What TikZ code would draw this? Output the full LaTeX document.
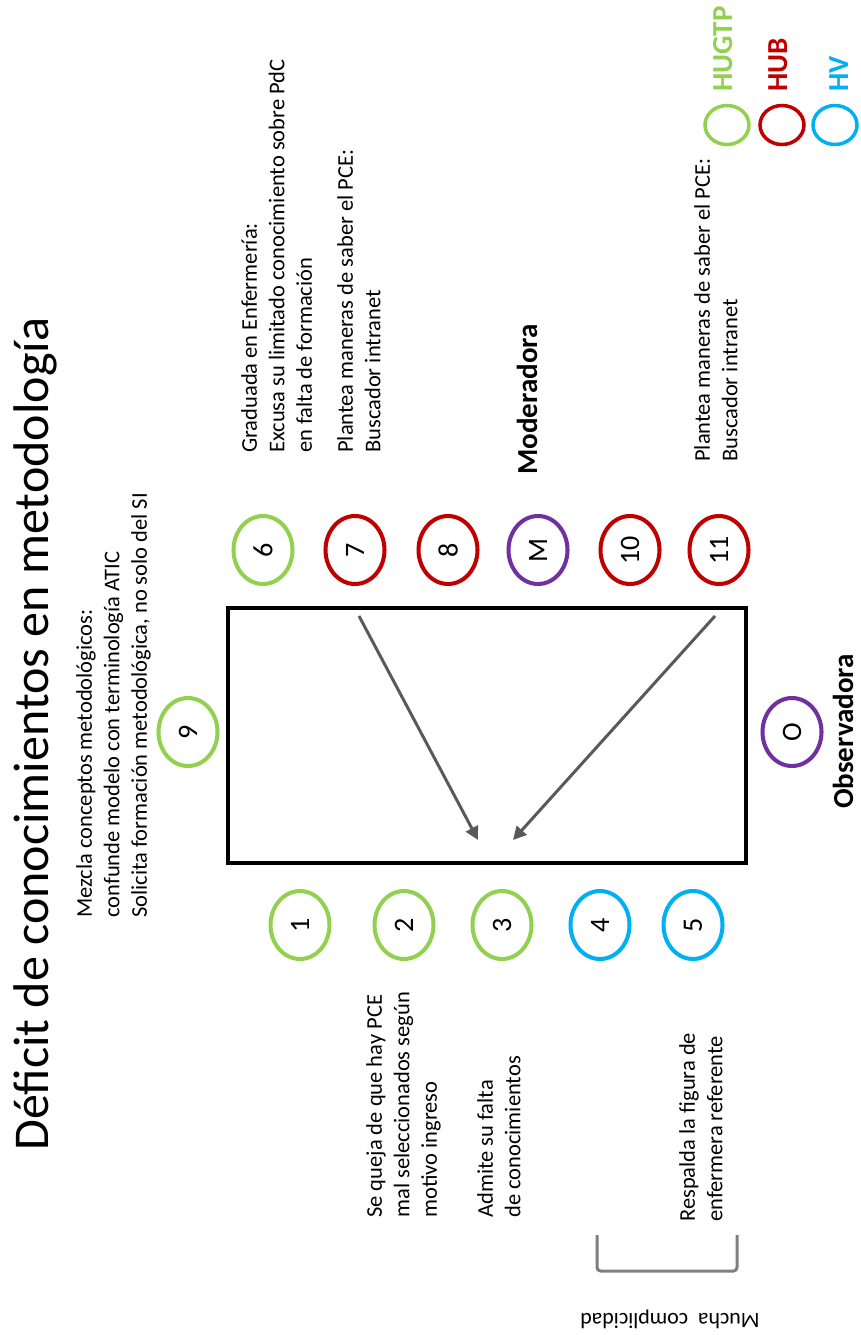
\documentclass[tikz,border=0pt]{standalone}
\usepackage{fontspec}
\setmainfont{Carlito}
\usetikzlibrary{arrows.meta, shapes.geometric}
\definecolor{hugtp}{HTML}{92D050}
\definecolor{hub}{HTML}{C00000}
\definecolor{hv}{HTML}{00B0F0}
\definecolor{rol}{HTML}{7030A0}
\definecolor{flecha}{HTML}{595959}
\definecolor{llave}{HTML}{7F7F7F}
\tikzset{
  persona/.style={
    ellipse,
    draw,
    line width=2.3pt,
    rotate=90,
    minimum width=1.36cm,
    minimum height=1.18cm,
    inner sep=0pt,
    font=\fontsize{16}{19}\selectfont
  },
  leyenda/.style={
    ellipse,
    draw,
    line width=2pt,
    rotate=90,
    minimum width=0.78cm,
    minimum height=0.88cm,
    inner sep=0pt
  },
  nota/.style={
    rotate=90,
    anchor=north west,
    align=left,
    inner sep=0pt,
    font=\fontsize{12.8}{15.6}\selectfont
  },
  rotulo/.style={
    rotate=90,
    anchor=base west,
    inner sep=0pt,
    font=\fontsize{16.5}{19}\selectfont\bfseries
  },
  mesa/.style={
    rectangle,
    draw,
    line width=2.3pt,
    minimum width=10.36cm,
    minimum height=5.10cm
  },
  arrow/.style={-{Triangle[length=7.5pt, width=7.5pt]}, line width=1.7pt, color=flecha}
}
\begin{document}
\begin{tikzpicture}[x=0.02cm, y=-0.02cm]
  \useasboundingbox (0,0) rectangle (860,1335);

  \node[rotate=90, anchor=base west, inner sep=0pt, font=\fontsize{28.5}{34}\selectfont] (titulo)
        at (49,1151) {Déficit de conocimientos en metodología};

  \node[mesa] (mesa) at (487,735.5) {};

  \node[persona, draw=hugtp] (p6) at (263,550) {6};
  \node[persona, draw=hub] (p7) at (355,550) {7};
  \node[persona, draw=hub] (p8) at (448,550) {8};
  \node[persona, draw=rol] (pM) at (538,550) {M};
  \node[persona, draw=hub] (p10) at (630,550) {10};
  \node[persona, draw=hub] (p11) at (719,550) {11};

  \node[persona, draw=hugtp] (p9) at (188,732) {9};
  \node[persona, draw=rol] (pO) at (792,732) {O};

  \node[persona, draw=hugtp] (p1) at (300,925) {1};
  \node[persona, draw=hugtp] (p2) at (404,925) {2};
  \node[persona, draw=hugtp] (p3) at (502,925) {3};
  \node[persona, draw=hv] (p4) at (600,925) {4};
  \node[persona, draw=hv] (p5) at (693,925) {5};

  \node[nota] (n9) at (76,918)
        {Mezcla conceptos metodológicos:\\confunde modelo con terminología ATIC\\Solicita formación metodológica, no solo del SI};
  \node[nota] (n6) at (241,453)
        {Graduada en Enfermería:\\Excusa su limitado conocimiento sobre PdC\\en falta de formación};
  \node[nota] (n7) at (337,453)
        {Plantea maneras de saber el PCE:\\Buscador intranet};
  \node[nota] (n11) at (694,462)
        {Plantea maneras de saber el PCE:\\Buscador intranet};
  \node[nota] (n2) at (366,1218)
        {Se queja de que hay PCE\\mal seleccionados\ según\\motivo ingreso};
  \node[nota] (n3) at (477,1218)
        {Admite su falta\\de conocimientos};
  \node[nota] (n5) at (679,1222)
        {Respalda\ la figura de\\enfermera\ referente};

  \node[rotulo] (moderadora) at (537,475) {Moderadora};
  \node[rotulo] (observadora) at (853,809) {Observadora};

  \coordinate (d7) at (359,616);
  \coordinate (d11) at (715,616);
  \coordinate (o7) at (478,840);
  \coordinate (o11) at (513,840);
  \draw[arrow] (d7) -- (o7);
  \draw[arrow] (d11) -- (o11);

  \draw[llave, line width=1.7pt, rounded corners=2pt] (597,1235) -- (597,1271) -- (737,1271) -- (737,1235);
  \node[rotate=180, anchor=base west, inner sep=0pt, font=\fontsize{12.5}{15}\selectfont] (complicidad)
        at (760,1313) {Mucha\ \ complicidad};

  \node[leyenda, draw=hugtp] (lhugtp) at (727,125) {};
  \node[leyenda, draw=hub] (lhub) at (782,125) {};
  \node[leyenda, draw=hv] (lhv) at (835,125) {};
  \node[rotulo, text=hugtp] (thugtp) at (732,92) {HUGTP};
  \node[rotulo, text=hub] (thub) at (787,92) {HUB};
  \node[rotulo, text=hv] (thv) at (848,92) {HV};
\end{tikzpicture}
\end{document}
